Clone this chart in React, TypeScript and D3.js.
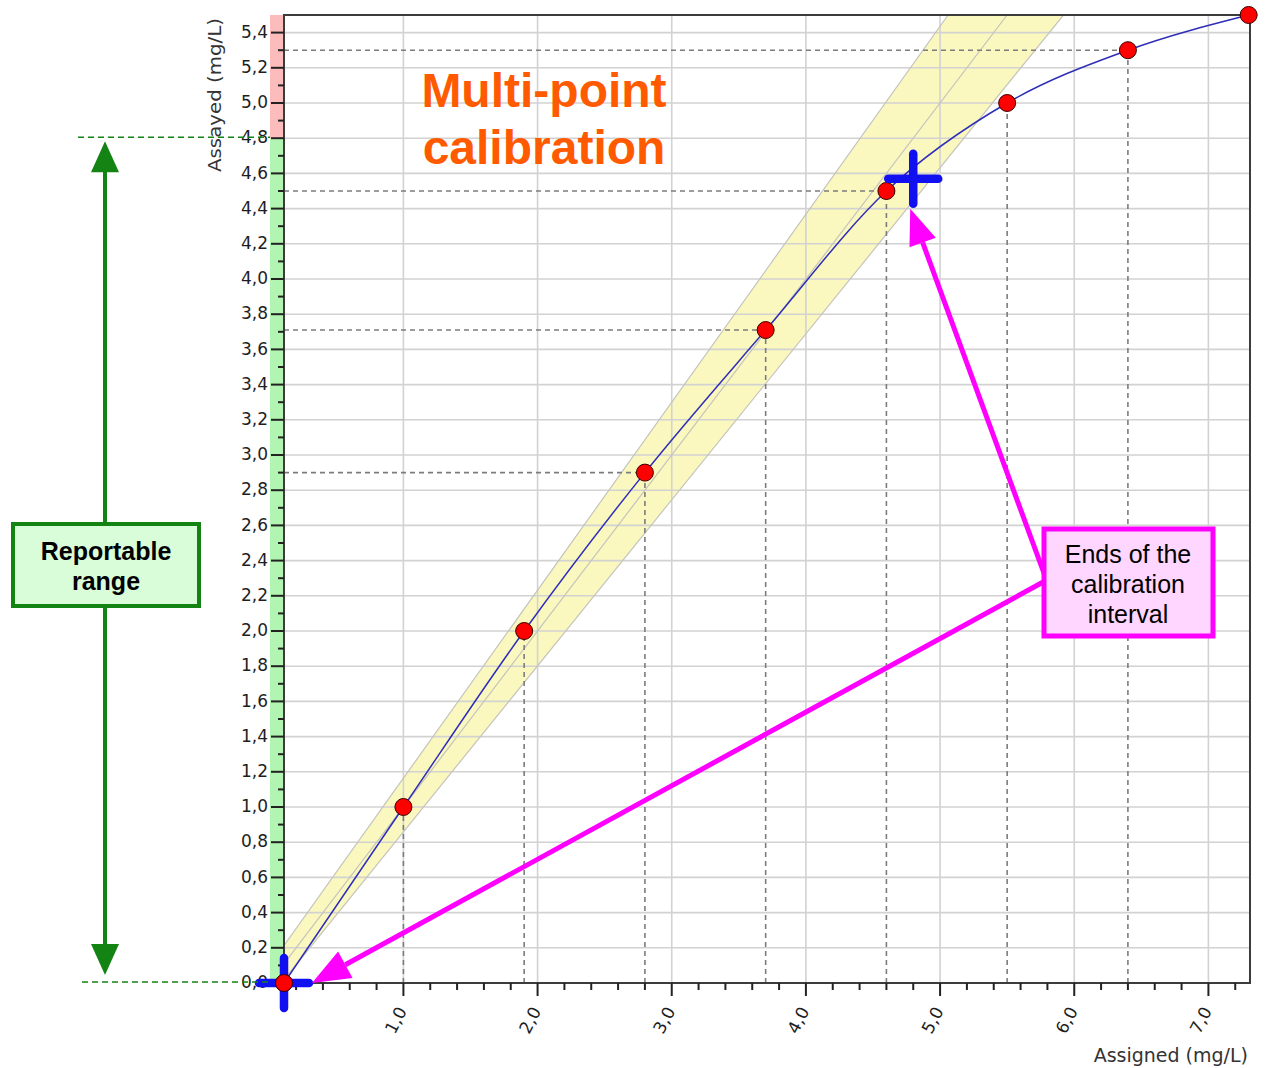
import React from "react";
import * as d3 from "d3";

// ---- data ----
const assigned = [0.11, 1.0, 1.9, 2.8, 3.7, 4.6, 5.5, 6.4, 7.3];
const assayed = [0.0, 1.0, 2.0, 2.9, 3.71, 4.5, 5.0, 5.3, 5.5];
const hDashIdx = [3, 4, 5, 7];
const vDashIdx = [1, 2, 3, 4, 5, 6, 7];
const intervalEnds = [
  [0.11, 0.0],
  [4.8, 4.57],
];
// tolerance band edges (assigned, assayed)
const bandLeft = [
  [-0.09, 0],
  [5.06, 5.5],
];
const bandRight = [
  [0.09, 0],
  [5.92, 5.5],
];
const identity = [
  [0, 0],
  [5.5, 5.5],
];
const reportableLimits = [0.0, 4.8];
const yMax = 5.5;
const xTicks = [1, 2, 3, 4, 5, 6, 7];
const yTicks = d3.range(0, 28).map((i) => i * 0.2);
const yMinor = d3.range(0, 55).map((i) => i * 0.1);
const xMinor = d3.range(1, 37).map((i) => i * 0.2);

const fmt = (v: number) => d3.format(".1f")(v).replace(".", ",");

export default function App() {
  const W = 1268,
    H = 1068;
  const L = 284,
    R = 1250,
    T = 15,
    B = 983;
  const x = d3.scaleLinear().domain([0.11, 7.31]).range([L, R]);
  const y = d3.scaleLinear().domain([0, yMax]).range([B, T]);

  const curve = d3
    .line<number>()
    .x((_, i) => x(assigned[i]))
    .y((d) => y(d))
    .curve(d3.curveMonotoneX)(assayed) as string;

  const band = [
    [x(bandLeft[0][0]), y(bandLeft[0][1])],
    [x(bandLeft[1][0]), y(bandLeft[1][1])],
    [x(bandRight[1][0]), y(bandRight[1][1])],
    [x(bandRight[0][0]), y(bandRight[0][1])],
  ]
    .map((p) => p.join(","))
    .join(" ");

  const tickFont = "'DejaVu Sans', Verdana, sans-serif";
  const arial = "'Liberation Sans', Arial, sans-serif";

  const arrowHead = (
    x1: number,
    y1: number,
    x2: number,
    y2: number,
    len: number,
    hw: number
  ) => {
    const dx = x2 - x1,
      dy = y2 - y1;
    const d = Math.hypot(dx, dy);
    const ux = dx / d,
      uy = dy / d;
    const bx = x2 - ux * len,
      by = y2 - uy * len;
    const px = -uy,
      py = ux;
    return {
      pts: `${x2},${y2} ${bx + px * hw},${by + py * hw} ${bx - px * hw},${by - py * hw}`,
      bx,
      by,
    };
  };

  const c1 = [x(intervalEnds[0][0]), y(intervalEnds[0][1])];
  const c2 = [x(intervalEnds[1][0]), y(intervalEnds[1][1])];
  const tip1 = [c2[0] - 3, c2[1] + 30];
  const tip2 = [c1[0] + 28, c1[1]];
  const a1 = arrowHead(1045, 576, tip1[0], tip1[1], 36, 14);
  const a2 = arrowHead(1045, 581, tip2[0], tip2[1], 38, 15);

  const gTop = y(reportableLimits[1]);
  const gBot = y(reportableLimits[0]);
  const green = "#138313";
  const magenta = "#ff00ff";

  return (
    <svg
      width={W}
      height={H}
      style={{ position: "absolute", left: 0, top: 0, background: "#fff" }}
    >
      <defs>
        <clipPath id="plot">
          <rect x={L} y={T} width={R - L} height={B - T} />
        </clipPath>
      </defs>
      <rect x={0} y={0} width={W} height={H} fill="#fff" />

      {/* band */}
      <g clipPath="url(#plot)">
        <polygon points={band} fill="#fbf8bf" />
      </g>

      {/* grid */}
      <g stroke="#d2d2d2" strokeWidth={1.6}>
        {yTicks
          .filter((v) => v > 0)
          .map((v) => (
            <line key={"gy" + v} x1={L} x2={R} y1={y(v)} y2={y(v)} />
          ))}
        {xTicks.map((v) => (
          <line key={"gx" + v} x1={x(v)} x2={x(v)} y1={T} y2={B} />
        ))}
      </g>

      {/* band edges & identity */}
      <g clipPath="url(#plot)" stroke="#c4c4bc" strokeWidth={1.2} fill="none">
        <line x1={x(bandLeft[0][0])} y1={y(bandLeft[0][1])} x2={x(bandLeft[1][0])} y2={y(bandLeft[1][1])} />
        <line x1={x(bandRight[0][0])} y1={y(bandRight[0][1])} x2={x(bandRight[1][0])} y2={y(bandRight[1][1])} />
        <line x1={x(identity[0][0])} y1={y(identity[0][1])} x2={x(identity[1][0])} y2={y(identity[1][1])} />
      </g>

      {/* dashed reference lines */}
      <g stroke="#7c7c7c" strokeWidth={1.6} strokeDasharray="5,4">
        {hDashIdx.map((i) => (
          <line key={"h" + i} x1={L} x2={x(assigned[i])} y1={y(assayed[i])} y2={y(assayed[i])} />
        ))}
        {vDashIdx.map((i) => (
          <line key={"v" + i} x1={x(assigned[i])} x2={x(assigned[i])} y1={B} y2={y(assayed[i])} />
        ))}
      </g>

      {/* colored strips left of y axis */}
      <rect x={270} y={T} width={L - 270} height={y(reportableLimits[1]) - T} fill="#fdbcbc" />
      <rect x={270} y={gTop} width={L - 270} height={gBot - gTop} fill="#b2f5b2" />

      {/* curve */}
      <path d={curve} fill="none" stroke="#2e2eb8" strokeWidth={1.5} />

      {/* frame */}
      <rect x={L} y={T} width={R - L} height={B - T} fill="none" stroke="#3c3c3c" strokeWidth={2} />

      {/* ticks */}
      <g stroke="#222" strokeWidth={2}>
        {yMinor.map((v, i) => (
          <line key={"yt" + i} x1={L} x2={L - (i % 2 === 0 ? 13 : 6)} y1={y(v)} y2={y(v)} />
        ))}
        {xMinor.map((v, i) => (
          <line key={"xt" + i} x1={x(v)} x2={x(v)} y1={B} y2={B + ((i + 1) % 5 === 0 ? 13 : 7)} />
        ))}
      </g>
      <g fontFamily={tickFont} fontSize={17} fill="#1e1e1e">
        {yTicks.map((v) => (
          <text key={"yl" + v} x={268} y={y(v) - 1} dy="0.36em" textAnchor="end">
            {fmt(v)}
          </text>
        ))}
        {xTicks.map((v) => (
          <text
            key={"xl" + v}
            transform={`translate(${x(v) + 4},${1011}) rotate(-62)`}
            textAnchor="end"
          >
            {fmt(v)}
          </text>
        ))}
      </g>
      <text
        fontFamily={tickFont}
        fontSize={18}
        fill="#333"
        transform={`translate(221,${T + 3}) rotate(-90)`}
        textAnchor="end"
        textLength={154}
        lengthAdjust="spacingAndGlyphs"
      >
        Assayed (mg/L)
      </text>
      <text fontFamily={tickFont} fontSize={19} fill="#333" x={1248} y={1062} textAnchor="end">
        Assigned (mg/L)
      </text>

      {/* points */}
      {assayed.map((v, i) => (
        <circle key={"p" + i} cx={x(assigned[i])} cy={y(v)} r={8.5} fill="#ff0000" stroke="#3a0000" strokeWidth={1} />
      ))}

      {/* crosses */}
      <g stroke="#1010f0" strokeWidth={8.5} strokeLinecap="round">
        {[c1, c2].map((c, i) => (
          <g key={"c" + i}>
            <line x1={c[0] - 25} x2={c[0] + 25} y1={c[1]} y2={c[1]} />
            <line x1={c[0]} x2={c[0]} y1={c[1] - 25} y2={c[1] + 25} />
          </g>
        ))}
      </g>
      <circle cx={c1[0]} cy={c1[1]} r={8.5} fill="#ff0000" stroke="#3a0000" strokeWidth={1} />

      {/* title */}
      <g fontFamily={arial} fontWeight="bold" fontSize={48} fill="#ff5a00" textAnchor="middle">
        <text x={544} y={107}>Multi-point</text>
        <text x={544} y={164}>calibration</text>
      </g>

      {/* magenta arrows */}
      <g stroke={magenta} strokeWidth={5}>
        <line x1={1045} y1={576} x2={a1.bx} y2={a1.by} />
        <line x1={1045} y1={581} x2={a2.bx} y2={a2.by} />
      </g>
      <polygon points={a1.pts} fill={magenta} />
      <polygon points={a2.pts} fill={magenta} />
      <rect x={1044} y={529} width={169} height={107} fill="#ffd6ff" stroke={magenta} strokeWidth={5} />
      <g fontFamily={arial} fontSize={25} fill="#000" textAnchor="middle">
        <text x={1128} y={563}>Ends of the</text>
        <text x={1128} y={593}>calibration</text>
        <text x={1128} y={623}>interval</text>
      </g>

      {/* reportable range */}
      <g stroke={green} strokeWidth={1.5} strokeDasharray="6,4">
        <line x1={78} x2={270} y1={gTop - 1} y2={gTop - 1} />
        <line x1={82} x2={270} y1={gBot - 1} y2={gBot - 1} />
      </g>
      <line x1={105} x2={105} y1={gTop + 30} y2={gBot - 35} stroke={green} strokeWidth={4} />
      <polygon points={`105,${gTop + 3} ${91},${gTop + 34} ${119},${gTop + 34}`} fill={green} />
      <polygon points={`105,${gBot - 8} ${91},${gBot - 39} ${119},${gBot - 39}`} fill={green} />
      <rect x={13} y={524} width={186} height={82} fill="#d9fcd9" stroke={green} strokeWidth={4} />
      <g fontFamily={arial} fontWeight="bold" fontSize={25} fill="#000" textAnchor="middle">
        <text x={106} y={560}>Reportable</text>
        <text x={106} y={590}>range</text>
      </g>
    </svg>
  );
}
